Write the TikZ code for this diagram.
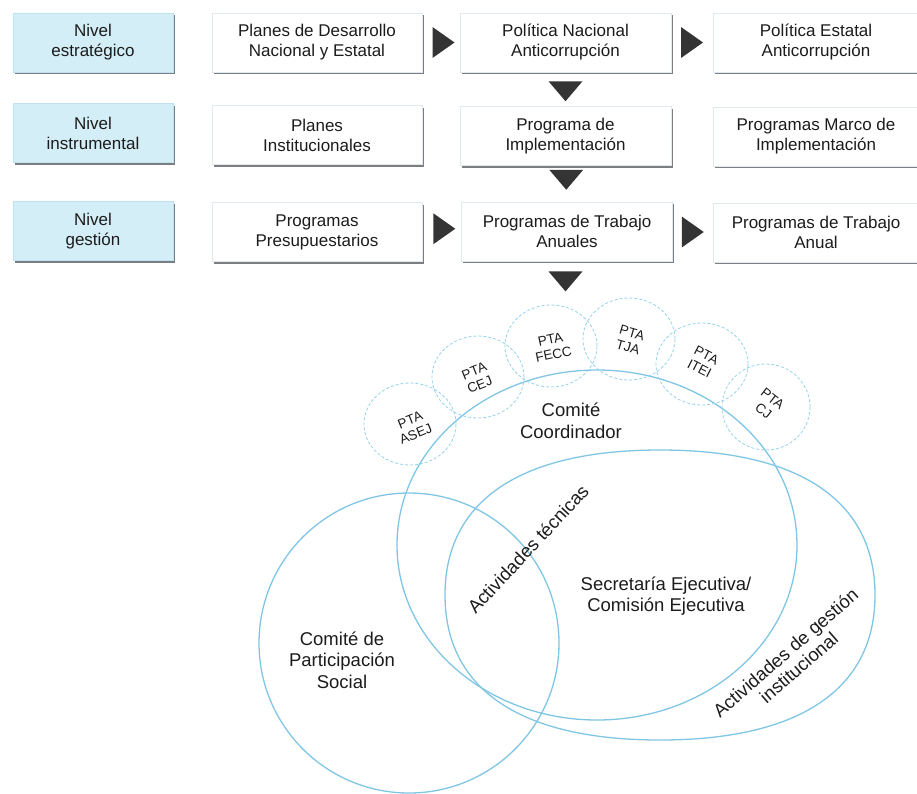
\documentclass[tikz,border=0pt]{standalone}
\usepackage{fontspec}
\setmainfont{Liberation Sans}
\usetikzlibrary{calc,shadows}
\definecolor{boxblue}{RGB}{212,238,247}
\definecolor{boxblueline}{RGB}{192,226,240}
\definecolor{boxline}{RGB}{225,233,238}
\definecolor{shadowgray}{RGB}{125,125,132}
\definecolor{venn}{RGB}{128,198,228}
\definecolor{ptaline}{RGB}{150,210,236}
\definecolor{tricol}{RGB}{52,52,52}
\definecolor{txt}{RGB}{28,28,28}
\begin{document}
\begin{tikzpicture}[x=1pt,y=-1pt,
  box/.style={draw=boxline, line width=0.8pt, fill=white, text=txt, align=center,
    inner sep=0pt, minimum height=59pt, font=\fontsize{17}{20}\selectfont,
    drop shadow={shadow xshift=1.5pt, shadow yshift=-2pt, opacity=1, fill=shadowgray}},
  lvl/.style={box, fill=boxblue, draw=boxblueline, minimum width=160pt},
  colb/.style={box, minimum width=210pt},
  colc/.style={box, minimum width=211pt},
  cold/.style={box, minimum width=206pt},
  venn/.style={draw=venn, line width=1.3pt},
  pta/.style={draw=ptaline, line width=0.8pt, dash pattern=on 3pt off 2pt},
  ptatext/.style={text=txt, align=center, inner sep=0pt, font=\fontsize{13.5}{15}\selectfont},
  bigtext/.style={text=txt, align=center, inner sep=0pt, font=\fontsize{18.5}{21.5}\selectfont},
  rtri/.pic={\fill[tricol] (-11,-15.5) -- (11,0) -- (-11,15.5) -- cycle;},
  dtri/.pic={\fill[tricol] (-17,-10) -- (17,-10) -- (0,10) -- cycle;}
]
\useasboundingbox (0,0) rectangle (917,793);

% level boxes
\node[lvl] (l1) at (93,42.5) {Nivel\\estratégico};
\node[lvl] (l2) at (93,133) {Nivel\\instrumental};
\node[lvl] (l3) at (93,231) {Nivel\\gestión};

\node[colb] (b1) at (317,42.5) {Planes de Desarrollo\\Nacional y Estatal};
\node[colb] (b2) at (317,135) {Planes\\Institucionales};
\node[colb] (b3) at (317,232) {Programas\\Presupuestarios};

\node[colc] (c1) at (565.5,42.5) {Política Nacional\\Anticorrupción};
\node[colc] (c2) at (565.5,136) {Programa de\\Implementación};
\node[colc] (c3) at (567,231.5) {Programas de Trabajo\\Anuales};

\node[cold] (d1) at (816,42.5) {Política Estatal\\Anticorrupción};
\node[cold] (d2) at (816,136.5) {Programas Marco de\\Implementación};
\node[cold] (d3) at (816,232.5) {Programas de Trabajo\\Anual};

% arrows
\pic at ($(b1.east)!0.5!(c1.west)+(2.5,0)$) {rtri};
\pic at ($(c1.east)!0.5!(d1.west)$) {rtri};
\pic at ($(b3.east)!0.5!(c3.west)+(2.5,-3)$) {rtri};
\pic at ($(c3.east)!0.5!(d3.west)$) {rtri};
\pic at ($(c1.south)!0.5!(c2.north)+(0,2)$) {dtri};
\pic at ($(c2.south)!0.5!(c3.north)+(0,-4)$) {dtri};
\coordinate (below) at ($(c3.south)+(-1.5,20)$);
\pic at (below) {dtri};

% Venn shapes
\draw[venn] (409,643) circle [radius=150pt];
\draw[venn] (597,545) ellipse [x radius=200pt, y radius=175pt];
\draw[venn] (875,595) .. controls (875,500.75) and (799.75,450) .. (660,450)
  .. controls (520.25,450) and (445,500.75) .. (445,595)
  .. controls (445,689.25) and (520.25,740) .. (660,740)
  .. controls (799.75,740) and (875,689.25) .. (875,595) -- cycle;

% PTA circles
\draw[pta] (410,424) ellipse [x radius=46pt, y radius=41pt];
\draw[pta] (478,377) ellipse [x radius=46pt, y radius=41pt];
\draw[pta] (551,346) ellipse [x radius=46pt, y radius=41pt];
\draw[pta] (629,339) ellipse [x radius=46pt, y radius=41pt];
\draw[pta] (702,364) ellipse [x radius=46pt, y radius=41pt];
\draw[pta] (766,407) ellipse [x radius=44pt, y radius=43pt];

\node[ptatext, rotate=22] (asej) at (413,427) {PTA\\ASEJ};
\node[ptatext, rotate=22] (cej) at (477,378) {PTA\\CEJ};
\node[ptatext, rotate=12] (fecc) at (552,347) {PTA\\FECC};
\node[ptatext, rotate=-16] (tja) at (630,340) {PTA\\TJA};
\node[ptatext, rotate=-27] (itei) at (703,362) {PTA\\ITEI};
\node[ptatext, rotate=-38] (cj) at (768,405) {PTA\\CJ};

% labels
\node[bigtext] (cc) at (571,421) {Comité\\Coordinador};
\node[bigtext] (se) at (666,596) {Secretaría Ejecutiva/\\Comisión Ejecutiva};
\node[bigtext] (cps) at (342,660) {Comité de\\Participación\\Social};
\node[bigtext, rotate=47] (at) at (528,549) {Actividades técnicas};
\node[bigtext, rotate=41, font=\fontsize{18.5}{20}\selectfont] (ag) at (792,660) {Actividades de gestión\\institucional};
\end{tikzpicture}
\end{document}
